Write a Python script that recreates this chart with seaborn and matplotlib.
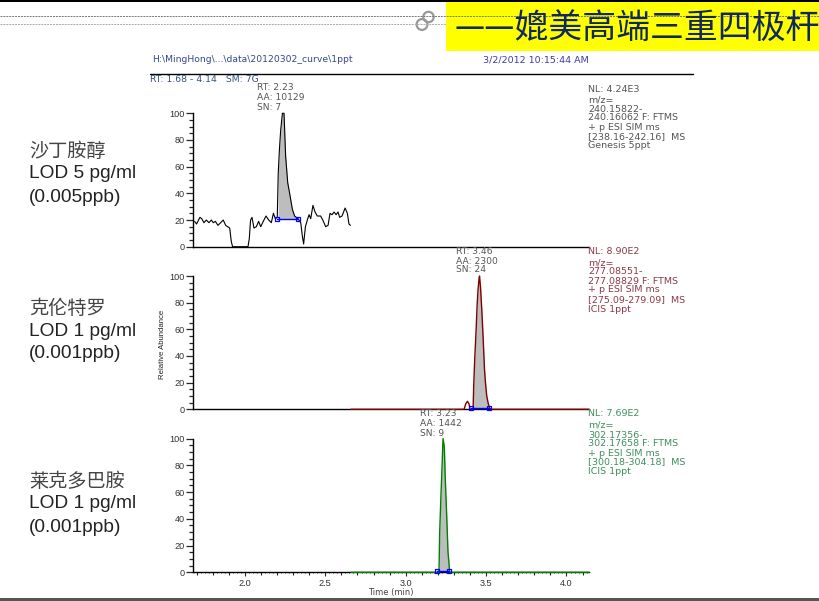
import pandas as pd
import matplotlib
matplotlib.use("Agg")
import matplotlib.pyplot as plt
from matplotlib.patches import Rectangle, Circle
from matplotlib.ticker import MultipleLocator, NullFormatter
import seaborn as sns

# traces (time in min, relative abundance)
t1 = [1.687, 1.699, 1.720, 1.731, 1.745, 1.760, 1.776, 1.791, 1.803, 1.816, 1.832, 1.849, 1.865, 1.880,
      1.905, 1.915, 1.923, 2.019, 2.027, 2.035, 2.044, 2.056, 2.071, 2.085, 2.098, 2.114, 2.131, 2.148,
      2.164, 2.177, 2.189, 2.201, 2.207, 2.214, 2.222, 2.233, 2.243, 2.253, 2.266, 2.278, 2.295, 2.309, 2.330,
      2.347, 2.357, 2.365, 2.376, 2.388, 2.399, 2.409, 2.423, 2.436, 2.450, 2.471, 2.488, 2.502, 2.517,
      2.529, 2.542, 2.554, 2.567, 2.579, 2.589, 2.604, 2.623, 2.637, 2.647, 2.656]
v1 = [19, 17, 22, 21, 18, 20, 18, 20, 18, 19, 16, 18, 20, 16,
      14, 4, 0, 0, 6, 20, 22, 14, 15, 19, 15, 19, 23, 20,
      18, 25, 21, 22, 55, 72, 87, 100, 100, 68, 48, 40, 28, 23, 21,
      18, 8, 2, 15, 20, 24, 21, 31, 26, 23, 23, 19, 15, 16,
      25, 24, 26, 24, 26, 22, 23, 29, 25, 17, 16]

t2 = [2.66, 3.363, 3.373, 3.384, 3.394, 3.400, 3.419, 3.423, 3.429, 3.438, 3.444, 3.450, 3.456, 3.459,
      3.465, 3.473, 3.481, 3.490, 3.496, 3.504, 3.512, 3.521, 3.533, 4.14]
v2 = [0, 0, 4, 6, 4, 0, 0, 18, 37, 60, 78, 90, 98, 100,
      92, 75, 55, 30, 20, 10, 5, 1, 0, 0]

t3 = [2.66, 3.207, 3.211, 3.219, 3.226, 3.232, 3.240, 3.246, 3.255, 3.263, 3.269, 3.273, 4.14]
v3 = [0, 0, 29, 57, 79, 100, 94, 70, 42, 15, 7, 0, 0]

# integration limits and baseline level of each peak
limits1 = [2.202, 2.330]
limits2 = [3.409, 3.517]
limits3 = [3.197, 3.269]
base1 = 21
base2 = 1
base3 = 1

names = ["沙丁胺醇", "克伦特罗", "莱克多巴胺"]
lods = ["LOD 5 pg/ml", "LOD 1 pg/ml", "LOD 1 pg/ml"]
ppbs = ["(0.005ppb)", "(0.001ppb)", "(0.001ppb)"]

peak1 = ["RT: 2.23", "AA: 10129", "SN: 7"]
peak2 = ["RT: 3.46", "AA: 2300", "SN: 24"]
peak3 = ["RT: 3.23", "AA: 1442", "SN: 9"]

info1 = ["NL: 4.24E3", "m/z=", "240.15822-", "240.16062 F: FTMS", "+ p ESI SIM ms", "[238.16-242.16]  MS", "Genesis 5ppt"]
info2 = ["NL: 8.90E2", "m/z=", "277.08551-", "277.08829 F: FTMS", "+ p ESI SIM ms", "[275.09-279.09]  MS", "ICIS 1ppt"]
info3 = ["NL: 7.69E2", "m/z=", "302.17356-", "302.17658 F: FTMS", "+ p ESI SIM ms", "[300.18-304.18]  MS", "ICIS 1ppt"]

sns.set_style("white")
plt.rcParams['font.family'] = ['Liberation Sans', 'Noto Sans CJK SC', 'DejaVu Sans']
small = ['DejaVu Sans']

W, H = 820, 601
fig = plt.figure(figsize=(8.2, 6.01), dpi=100)

# overlay in pixel coordinates for the slide furniture and text
bg = fig.add_axes([0, 0, 1, 1], zorder=5)
bg.set_xlim(0, W)
bg.set_ylim(H, 0)
bg.axis("off")
bg.patch.set_alpha(0)

bg.add_patch(Rectangle((0, 0), W, 2, color="black", lw=0))
bg.add_patch(Rectangle((0, 597.7), W, 3.3, color="#555555", lw=0))
bg.add_patch(Rectangle((446, 2), W - 446, 49, color="#ffff00", lw=0))
bg.plot([0, W], [16, 16], color="#777777", lw=0.7, ls=(0, (2, 1)))
bg.plot([0, 446], [24, 24], color="#aaaaaa", lw=0.7, ls=(0, (2, 1)))
bg.add_patch(Circle((428.5, 17), 5.2, fill=False, ec="#999999", lw=1.6))
bg.add_patch(Circle((422, 24.5), 5.4, fill=False, ec="#999999", lw=1.6))
bg.text(455, 28, "——媲美高端三重四极杆", family=['Noto Sans CJK SC'], fontsize=24.4,
        color="#10285c", va="center", ha="left", clip_on=True)

bg.plot([150, 693], [74, 74], color="black", lw=1)
bg.text(152, 60, r"H:\MingHong\...\data\20120302_curve\1ppt", family=small, fontsize=6.7, color="#34488c", va="center")
bg.text(483, 60, "3/2/2012 10:15:44 AM", family=small, fontsize=6.8, color="#3c3ca8", va="center")
bg.text(150, 80, "RT: 1.68 - 4.14   SM: 7G", family=small, fontsize=6.7, color="#33507a", va="center")

# left hand labels
for name, lod, ppb, ys in zip(names, lods, ppbs, [(150, 173, 197), (307, 330, 353), (480, 503, 527)]):
    bg.text(29, ys[0] + 1.5, name, family=['Noto Sans CJK SC'], fontsize=13.8, color="#444444", va="center")
    bg.text(29, ys[1] + 1, lod, fontsize=13.8, color="#222222", va="center")
    bg.text(29, ys[2] + 1, ppb, fontsize=13.8, color="#222222", va="center")

for lines, x, ys in [(peak1, 257, (88, 98, 108)), (peak2, 456, (252, 261, 270)), (peak3, 420, (413, 423, 433))]:
    for line, y in zip(lines, ys):
        bg.text(x, y, line, family=small, fontsize=6.6, color="#555555", va="center")

info_rows = [(info1, "#555555", (89, 100, 109, 118, 128, 137, 146)),
             (info2, "#8c3a48", (252, 263, 272, 281, 290, 300, 309)),
             (info3, "#3f8f5f", (414, 425, 435, 444, 453, 462, 472))]
for lines, col, ys in info_rows:
    for line, y in zip(lines, ys):
        bg.text(588, y, line, family=small, fontsize=6.8, color=col, va="center")

bg.text(163, 344, "Relative Abundance", fontsize=5.6, rotation=90, ha="center", va="center", color="#222222")
bg.text(391, 593, "Time (min)", family=small, fontsize=6, ha="center", va="center", color="#444444")

# chromatogram panels: (top px, bottom px)
panels = [
    (t1, v1, limits1, base1, "black", 0.8, (113.3, 246.7)),
    (t2, v2, limits2, base2, "#800000", 1.0, (276, 409.3)),
    (t3, v3, limits3, base3, "#008000", 1.0, (438.5, 572.3)),
]
left_px, right_px = 193.5, 589

for i, (t, v, lim, base, col, width, (top, bot)) in enumerate(panels):
    ax = fig.add_axes([left_px / W, 1 - bot / H, (right_px - left_px) / W, (bot - top) / H], zorder=2)
    ax.patch.set_alpha(0)
    df = pd.DataFrame({"time": t, "abundance": v})
    sns.lineplot(data=df, x="time", y="abundance", color=col, lw=width, estimator=None, sort=False,
                 ax=ax, clip_on=False, zorder=4)

    # gray peak area above the baseline
    inside = df[(df["time"] >= lim[0]) & (df["time"] <= lim[1])]
    ax.fill_between(inside["time"], base, inside["abundance"].clip(lower=base), color="#bdbdbd", lw=0, zorder=3)
    ax.plot(lim, [base, base], color="#0000ff", lw=1, marker="s", ms=3.5, mfc="none", mew=0.9,
            clip_on=False, zorder=5)

    ax.set_xlim(1.68, 4.14)
    ax.set_ylim(0, 100)
    ax.set_xlabel("")
    ax.set_ylabel("")
    sns.despine(ax=ax)
    for side in ["left", "bottom"]:
        ax.spines[side].set_linewidth(1.0)
        ax.spines[side].set_color("black")
    ax.yaxis.set_major_locator(MultipleLocator(20))
    ax.yaxis.set_minor_locator(MultipleLocator(5))
    ax.tick_params(axis="y", which="major", left=True, length=5, width=0.9, labelsize=6.6, pad=1, labelcolor="#333333")
    ax.tick_params(axis="y", which="minor", left=True, length=3, width=0.9)
    if i == 2:
        ax.xaxis.set_major_locator(MultipleLocator(0.5))
        ax.xaxis.set_minor_locator(MultipleLocator(0.1))
        ax.xaxis.set_major_formatter("{x:.1f}")
        ax.tick_params(axis="x", which="major", bottom=True, length=3, width=0.8, labelsize=6.6, pad=2, labelcolor="#333333")
        ax.tick_params(axis="x", which="minor", bottom=True, length=2, width=0.8)
        # the finest dotted ticks along the time axis
        fine = ax.secondary_xaxis("bottom")
        fine.xaxis.set_major_locator(MultipleLocator(0.025))
        fine.xaxis.set_major_formatter(NullFormatter())
        fine.tick_params(axis="x", length=1, width=0.6)
        fine.spines["bottom"].set_visible(False)
    else:
        ax.set_xticks([])

fig.savefig("out.png", dpi=100)
